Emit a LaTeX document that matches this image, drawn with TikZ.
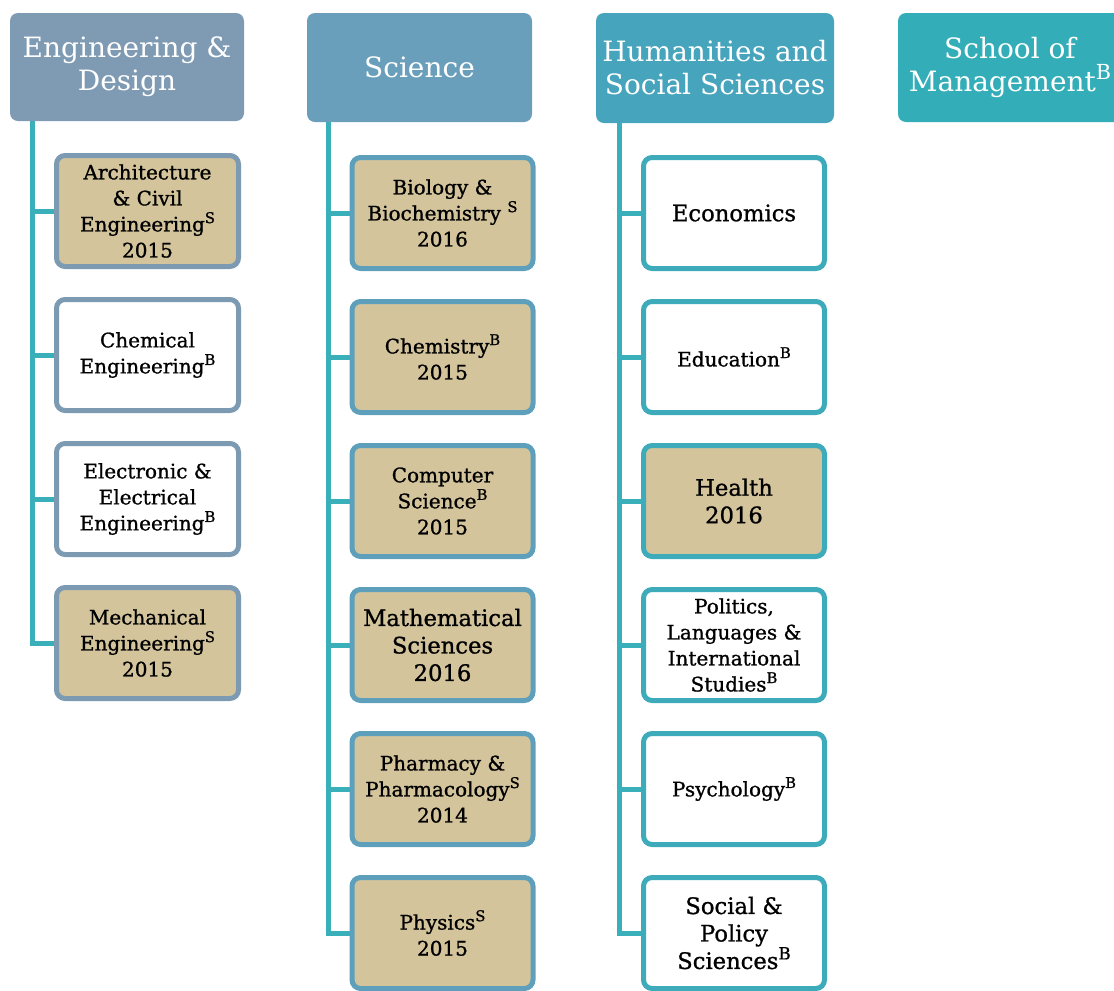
\documentclass[tikz,border=0pt]{standalone}
\usepackage{fontspec}
\setmainfont{DejaVu Serif}[UprightFeatures={FakeBold=1}]
\newfontfamily\plainserif{DejaVu Serif}
\usetikzlibrary{backgrounds}
\definecolor{hA}{HTML}{7F9BB4}
\definecolor{hB}{HTML}{699FBB}
\definecolor{hC}{HTML}{47A4BD}
\definecolor{hD}{HTML}{33AEB8}
\definecolor{bA}{HTML}{7D9AB3}
\definecolor{bB}{HTML}{5EA0BB}
\definecolor{bC}{HTML}{3DABBA}
\definecolor{trunkc}{HTML}{39AFBA}
\definecolor{tanfill}{HTML}{D3C49B}
\newcommand\supx[1]{\raisebox{0.42em}{\fontsize{0.74em}{0.74em}\selectfont #1}}
\begin{document}
\begin{tikzpicture}[x=0.75pt,y=-0.75pt,
  head/.style={rounded corners=6pt, fill=#1, text=white, align=center, inner sep=0pt,
    font=\plainserif\fontsize{21}{24.75}\selectfont},
  kid/.style={rounded corners=6.5pt, draw=#1, line width=3.75pt, fill=white, align=center,
    inner sep=0pt, minimum width=135.75pt, minimum height=83.25pt,
    font=\fontsize{15}{19.5}\selectfont},
  tanbox/.style={fill=tanfill},
  bigtext/.style={font=\fontsize{17}{20.6}\selectfont},
  trunk/.style={draw=trunkc, line width=3.75pt}]
\useasboundingbox (0,0) rectangle (1114,990);

% headers
\node[head=hA, minimum width=175.5pt, minimum height=81pt] (h1) at (127,67) {Engineering \&\\Design};
\node[head=hB, minimum width=168.75pt, minimum height=81.75pt] (h2) at (419.5,67.5) {Science};
\node[head=hC, minimum width=178.5pt, minimum height=82.5pt] (h3) at (715,68) {Humanities and\\Social Sciences};
\node[head=hD, minimum width=168pt, minimum height=81.75pt] (h4) at (1010,67.5) {School of\\Management\supx{B}};

% column 1
\node[kid=bA, tanbox, minimum width=136.5pt] (a1) at (147.5,211) {Architecture\\\& Civil\\Engineering\supx{S}\\2015};
\node[kid=bA, minimum width=136.5pt] (a2) at (147.5,355) {Chemical\\Engineering\supx{B}};
\node[kid=bA, minimum width=136.5pt] (a3) at (147.5,499) {Electronic \&\\Electrical\\Engineering\supx{B}};
\node[kid=bA, tanbox, minimum width=136.5pt] (a4) at (147.5,643) {Mechanical\\Engineering\supx{S}\\2015};

% column 2
\node[kid=bB, tanbox] (b1) at (442.5,213) {Biology \&\\Biochemistry \supx{S}\\2016};
\node[kid=bB, tanbox] (b2) at (442.5,357) {Chemistry\supx{B}\\2015};
\node[kid=bB, tanbox] (b3) at (442.5,501) {Computer\\Science\supx{B}\\2015};
\node[kid=bB, tanbox, bigtext] (b4) at (442.5,645) {Mathematical\\Sciences\\2016};
\node[kid=bB, tanbox] (b5) at (442.5,789) {Pharmacy \&\\Pharmacology\supx{S}\\2014};
\node[kid=bB, tanbox] (b6) at (442.5,933) {Physics\supx{S}\\2015};

% column 3
\node[kid=bC, bigtext] (c1) at (734,213) {Economics};
\node[kid=bC] (c2) at (734,357) {Education\supx{B}};
\node[kid=bC, tanbox, bigtext] (c3) at (734,501) {Health\\2016};
\node[kid=bC] (c4) at (734,645) {Politics,\\Languages \&\\International\\Studies\supx{B}};
\node[kid=bC] (c5) at (734,789) {Psychology\supx{B}};
\node[kid=bC, bigtext] (c6) at (734,933) {Social \&\\Policy\\Sciences\supx{B}};

\begin{scope}[on background layer]
  \coordinate (t1) at (32,0);
  \coordinate (t2) at (328,0);
  \coordinate (t3) at (619,0);
  \foreach \k in {a1,a2,a3,a4} { \draw[trunk] (t1 |- h1.south) |- (\k.west); }
  \foreach \k in {b1,b2,b3,b4,b5,b6} { \draw[trunk] (t2 |- h2.south) |- (\k.west); }
  \foreach \k in {c1,c2,c3,c4,c5,c6} { \draw[trunk] (t3 |- h3.south) |- (\k.west); }
\end{scope}
\end{tikzpicture}
\end{document}
